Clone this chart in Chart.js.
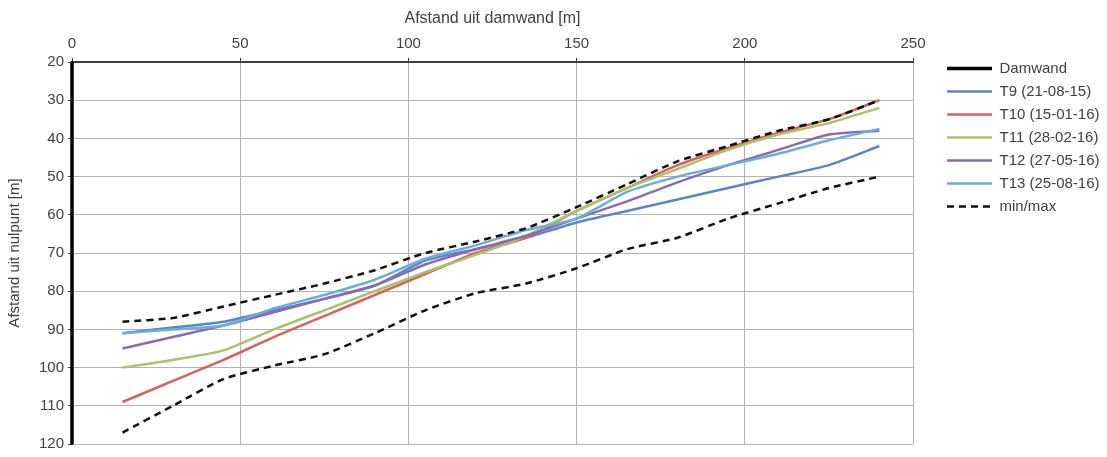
<!DOCTYPE html>
<html>
<head>
<meta charset="utf-8">
<script src="https://cdn.jsdelivr.net/npm/chart.js@4.4.1/dist/chart.umd.min.js"></script>
<style>
	html, body { margin: 0; padding: 0; background: #fff; }
	#wrap { width: 1107px; height: 457px; }
</style>
</head>
<body>
<div id="wrap"><canvas id="grafiek"></canvas></div>
<script>
// afstand uit damwand (x) per meetpunt
var afstand = [15, 30, 45, 60, 75, 90, 105, 120, 135, 150, 165, 180, 195, 210, 225, 240];
// afstand uit nulpunt (y) per meting
var t9  = [91, 89.5, 88, 85, 82, 78.5, 72, 69, 66, 62, 59, 56, 53, 50, 47, 42];
var t10 = [109, 103.5, 98, 92, 86.5, 81, 75.5, 70, 66, 59, 53, 47, 42.5, 38.5, 35, 30];
var t11 = [100, 98, 95.5, 90, 85, 80, 75, 70.5, 65.5, 59, 53, 48, 43, 39, 36, 32];
var t12 = [95, 92, 89, 85.5, 82, 78.5, 73, 69, 65.5, 61, 56.5, 51.5, 47, 43, 39, 38];
var t13 = [91, 90, 89, 84.5, 81, 77, 71.5, 68, 64, 61, 54, 50, 47, 44, 40.5, 37.5];
var minLijn = [117, 110, 103, 99.5, 96.5, 91, 85, 80.5, 78, 74, 69, 66, 61, 57, 53, 50];
var maxLijn = [88, 87, 84, 81, 78, 74.5, 70, 67, 63.5, 58, 52, 46, 42, 38, 35, 30];
// damwand staat op x = 0
var damwandX = [0, 0];
var damwandY = [20, 120];

var xTicks = { min: 0, max: 250, step: 50 };
var yTicks = { min: 20, max: 120, step: 10 };

function punten(xs, ys) {
	var out = [];
	for (var i in xs) {
		out.push({ x: xs[i], y: ys[i] });
	}
	return out;
}

var lettertype = "'Liberation Sans', Arial, sans-serif";
var tekstKleur = '#404040';

function reeks(label, ys, kleur, volgorde) {
	return {
		label: label,
		data: punten(afstand, ys),
		borderColor: kleur,
		backgroundColor: kleur,
		borderWidth: 2.5,
		pointRadius: 0,
		tension: 0.2,
		fill: false,
		order: volgorde
	};
}

var datasets = [
	{
		label: 'Damwand',
		data: punten(damwandX, damwandY),
		borderColor: '#000000',
		backgroundColor: '#000000',
		borderWidth: 3.5,
		pointRadius: 0,
		clip: false,
		order: 9
	},
	reeks('T9 (21-08-15)', t9, '#5b86c5', 7),
	reeks('T10 (15-01-16)', t10, '#d9625e', 6),
	reeks('T11 (28-02-16)', t11, '#a8c46a', 5),
	reeks('T12 (27-05-16)', t12, '#8a6bb0', 4),
	reeks('T13 (25-08-16)', t13, '#6aaee0', 3),
	{
		label: 'min/max',
		data: punten(afstand, minLijn),
		borderColor: '#111111',
		backgroundColor: '#111111',
		borderWidth: 2.5,
		borderDash: [7, 5],
		pointRadius: 0,
		tension: 0.2,
		order: 1
	},
	{
		label: 'max',
		data: punten(afstand, maxLijn),
		borderColor: '#111111',
		backgroundColor: '#111111',
		borderWidth: 2.5,
		borderDash: [7, 5],
		pointRadius: 0,
		tension: 0.2,
		order: 1
	}
];

// legenda op vaste plek naast het plotgebied
var legendaPlek = {
	id: 'legendaPlek',
	beforeUpdate: function(chart) {
		var lg = chart.legend;
		if (lg && !lg._vast) {
			var origFit = lg.fit;
			lg.fit = function() {
				origFit.call(this);
				this.width = 194;
			};
			lg._vast = true;
		}
	},
	afterLayout: function(chart) {
		var lg = chart.legend;
		lg.left = 939;
		lg.right = 1107;
		lg.top = 53;
	}
};

var standaardLabels = Chart.defaults.plugins.legend.labels.generateLabels;

var ctx = document.getElementById('grafiek');

var lijnGrafiek = new Chart(ctx, {
	type: 'line',
	data: { datasets: datasets },
	plugins: [legendaPlek],
	options: {
		responsive: true,
		maintainAspectRatio: false,
		animation: false,
		layout: { padding: { top: 0, bottom: 9, left: 0, right: 0 } },
		plugins: {
			tooltip: { enabled: false },
			legend: {
				position: 'right',
				align: 'start',
				labels: {
					usePointStyle: true,
					pointStyle: 'line',
					pointStyleWidth: 45,
					padding: 8,
					color: tekstKleur,
					font: { family: lettertype, size: 15 },
					generateLabels: function(chart) {
						var items = standaardLabels(chart);
						items.forEach(function(item) {
							var ds = chart.data.datasets[item.datasetIndex];
							item.lineDash = ds.borderDash || [];
							item.lineWidth = ds.borderWidth;
							item.strokeStyle = ds.borderColor;
						});
						return items;
					},
					filter: function(item) { return item.text !== 'max'; },
					sort: function(a, b) { return a.datasetIndex - b.datasetIndex; }
				}
			}
		},
		scales: {
			x: {
				type: 'linear',
				position: 'top',
				min: xTicks.min,
				max: xTicks.max,
				afterFit: function(s) { s.height = 62; },
				ticks: {
					stepSize: xTicks.step,
					color: tekstKleur,
					padding: 5,
					font: { family: lettertype, size: 15 }
				},
				grid: { color: '#b3b3b3', lineWidth: 1, tickLength: 4, tickColor: '#404040' },
				border: { color: '#404040', width: 2 },
				title: {
					display: true,
					text: 'Afstand uit damwand [m]',
					color: tekstKleur,
					padding: { top: 9, bottom: 0 },
					font: { family: lettertype, size: 16 }
				}
			},
			y: {
				type: 'linear',
				reverse: true,
				min: yTicks.min,
				max: yTicks.max,
				afterFit: function(s) { s.width = 72; },
				ticks: {
					stepSize: yTicks.step,
					color: tekstKleur,
					padding: 4,
					font: { family: lettertype, size: 15 }
				},
				grid: { color: '#b3b3b3', lineWidth: 1, tickLength: 4, tickColor: '#404040' },
				border: { color: '#000000', width: 2 },
				title: {
					display: true,
					text: 'Afstand uit nulpunt [m]',
					color: tekstKleur,
					padding: { top: 6, bottom: 0 },
					font: { family: lettertype, size: 15 }
				}
			}
		}
	}
});
</script>
</body>
</html>
